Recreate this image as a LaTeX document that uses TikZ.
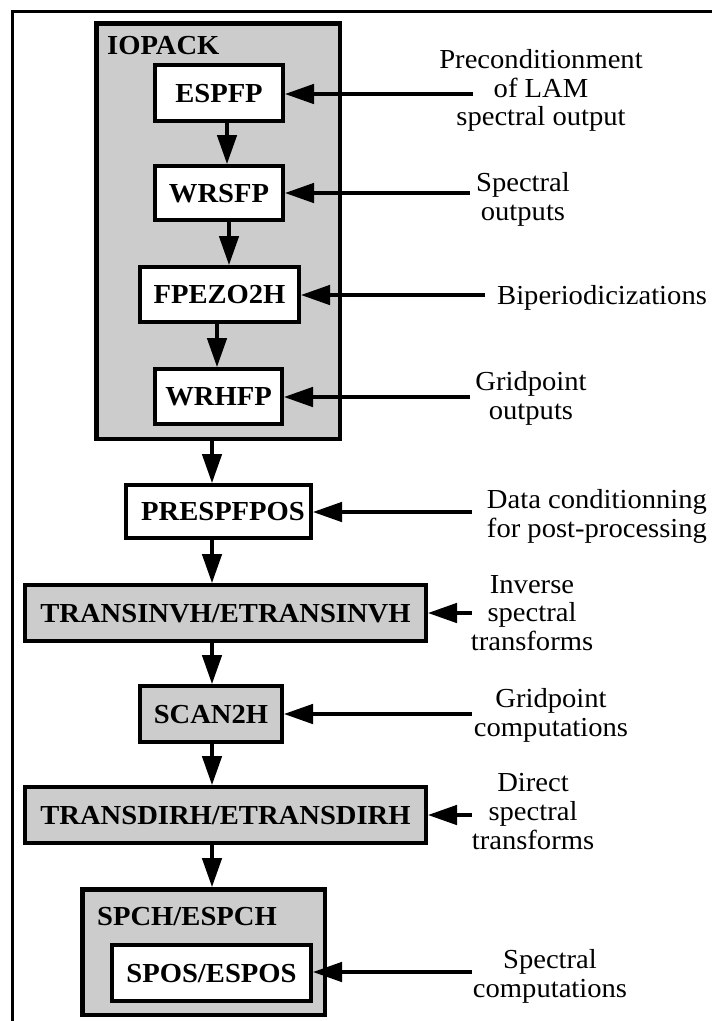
\documentclass[tikz,border=0pt]{standalone}
\usepackage{fontspec}
\setmainfont[FakeStretch=1.04]{Liberation Serif}
\usetikzlibrary{arrows.meta,calc}
\definecolor{shade}{gray}{0.8}
\tikzset{
  box/.style={draw, line width=4pt, fill=white, font=\bfseries\fontsize{27.5}{29}\selectfont,
    inner sep=0pt, text height=18.2pt, text depth=0pt},
  gbox/.style={box, fill=shade},
  cont/.style={draw, line width=4.5pt, fill=shade, inner sep=0pt},
  contlbl/.style={font=\bfseries\fontsize{27.5}{29}\selectfont, inner sep=0pt, anchor=base west},
  lbl/.style={font=\fontsize{27.5}{28.7}\selectfont, align=center, inner sep=0pt, anchor=north},
  arr/.style={line width=3.2pt, -{Triangle[length=29pt,width=19.5pt]}},
  frame/.style={line width=3pt},
}
\begin{document}
\begin{tikzpicture}[x=1pt,y=-1pt]
\useasboundingbox (0,0) rectangle (712,1021);
% outer frame
\draw[frame] (12,1030) -- (12,11) -- (720,11);

% containers
\node[cont, minimum width=243.5pt, minimum height=415.5pt] (iopack) at (218,231) {};
\node[contlbl] (iopacklbl) at (107,54) {IOPACK};
\node[cont, minimum width=242.5pt, minimum height=125.5pt] (spch) at (203.5,952) {};
\node[contlbl] (spchlbl) at (97,925) {SPCH/ESPCH};

% boxes
\node[box, minimum width=128pt, minimum height=56pt] (espfp) at (219,93) {ESPFP};
\node[box, minimum width=128pt, minimum height=54pt] (wrsfp) at (219,193) {WRSFP};
\node[box, minimum width=159pt, minimum height=55pt] (fpezo) at (219.5,294.5) {FPEZO2H};
\node[box, minimum width=127pt, minimum height=55pt] (wrhfp) at (218.5,396.5) {WRHFP};
\node[box, minimum width=185pt, minimum height=53pt] (prespf) at (218.5,511.5) {\hspace*{9pt}PRESPFPOS};
\node[gbox, minimum width=401pt, minimum height=56pt] (transinv) at (225.5,613) {TRANSINVH/ETRANSINVH};
\node[gbox, minimum width=142pt, minimum height=56pt] (scan) at (211,714) {SCAN2H};
\node[gbox, minimum width=401pt, minimum height=56pt] (transdir) at (225.5,815) {TRANSDIRH/ETRANSDIRH};
\node[box, minimum width=199pt, minimum height=56pt] (spos) at (211.5,973) {SPOS/ESPOS};

% vertical connectors
\coordinate (xa) at (227,0);
\coordinate (xb) at (229,0);
\coordinate (xc) at (217,0);
\coordinate (xs) at (212,0);
\draw[arr] (espfp.south -| xa) -- (wrsfp.north -| xa);
\draw[arr] (wrsfp.south -| xb) -- (fpezo.north -| xb);
\draw[arr] (fpezo.south -| xc) -- (wrhfp.north -| xc);
\draw[arr] (iopack.south -| xs) -- (prespf.north -| xs);
\draw[arr] (prespf.south -| xs) -- (transinv.north -| xs);
\draw[arr] (transinv.south -| xs) -- (scan.north -| xs);
\draw[arr] (scan.south -| xs) -- (transdir.north -| xs);
\draw[arr] (transdir.south -| xs) -- (spch.north -| xs);

% right-hand labels
\node[lbl] (l1) at (541,49.2) {Preconditionment\\of LAM\\spectral output};
\node[lbl] (l2) at (523,172.2) {Spectral\\outputs};
\node[font=\fontsize{27.5}{28.7}\selectfont, inner sep=0pt, anchor=base west] (l3) at (497,304) {Biperiodicizations};
\node[lbl] (l4) at (531,371.2) {Gridpoint\\outputs};
\node[lbl] (l5) at (597,489.2) {Data conditionning\\for post-processing};
\node[lbl] (l6) at (532,574.8) {Inverse\\spectral\\transforms};
\node[lbl] (l7) at (551,688.2) {Gridpoint\\computations};
\node[lbl] (l8) at (533,773.2) {Direct\\spectral\\transforms};
\node[lbl] (l9) at (550,949.2) {Spectral\\computations};

% horizontal connectors
\coordinate (h1) at (473,94);
\coordinate (h2) at (470,193);
\coordinate (h3) at (485,295);
\coordinate (h4) at (470,397);
\coordinate (h5) at (472,512);
\coordinate (h6) at (472,613);
\coordinate (h7) at (472,714);
\coordinate (h8) at (472,815);
\coordinate (h9) at (472,972);
\draw[arr] (h1) -- (espfp.east |- h1);
\draw[arr] (h2) -- (wrsfp.east |- h2);
\draw[arr] (h3) -- (fpezo.east |- h3);
\draw[arr] (h4) -- (wrhfp.east |- h4);
\draw[arr] (h5) -- (prespf.east |- h5);
\draw[arr] (h6) -- (transinv.east |- h6);
\draw[arr] (h7) -- (scan.east |- h7);
\draw[arr] (h8) -- (transdir.east |- h8);
\draw[arr] (h9) -- (spos.east |- h9);
\end{tikzpicture}
\end{document}
